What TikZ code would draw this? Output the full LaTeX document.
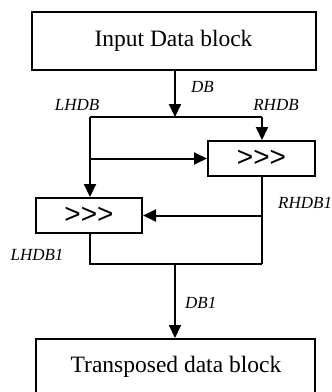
\documentclass[tikz,border=0pt]{standalone}
\usepackage{fontspec}
\setmainfont{Liberation Serif}
\newfontfamily\arialfont{Liberation Sans}
\usetikzlibrary{arrows.meta}
\begin{document}
\begin{tikzpicture}[x=1pt,y=-1pt,
  box/.style={draw,line width=2pt,rectangle,inner sep=0pt,font=\fontsize{23.5}{26}\selectfont},
  shbox/.style={draw,line width=2pt,rectangle,inner sep=0pt,minimum width=106pt,minimum height=35pt,font=\arialfont\fontsize{28}{30}\selectfont},
  wire/.style={line width=2pt},
  arr/.style={line width=2pt,-{Triangle[length=13pt,width=12pt]}},
  lbl/.style={font=\itshape\fontsize{17}{19}\selectfont,inner sep=0pt}]
\clip (0,0) rectangle (332,392);
\node[box,minimum width=284pt,minimum height=58pt] (top) at (173.5,41) {Input Data block};
\node[shbox,minimum width=107pt] (rh) at (261.5,158.5) {>{}>{}>};
\node[shbox] (lh) at (89,215.5) {>{}>{}>};
\node[box,minimum width=279pt,minimum height=58pt,anchor=north] (bot) at (175.5,338) {};
\node[font=\fontsize{23.5}{26}\selectfont] (bottxt) at (176,367) {Transposed data block};
\coordinate (jT) at (175,117);
\coordinate (jL) at (90,117);
\coordinate (jR) at (262,117);
\coordinate (jB) at (175,264);
\draw[arr] (top.south -| jT) -- (jT);
\draw[wire] (jL) -- (jR);
\draw[arr] (jR) -- (rh.north -| jR);
\draw[arr] (jL) -- (lh.north -| jL);
\draw[arr] (jL |- rh.west) -- (rh.west);
\draw[wire] (rh.south -| jR) -- (jR |- jB);
\draw[arr] (jR |- lh.east) -- (lh.east);
\draw[wire] (lh.south -| jL) -- (jL |- jB) -- (jR |- jB);
\draw[arr] (jB) -- (bot.north -| jB);
\node[lbl,anchor=west] (lDB) at (191,87) {DB};
\node[lbl] (lLH) at (77,105) {LHDB};
\node[lbl] (lRH) at (276,105) {RHDB};
\node[lbl,anchor=west] (lRH1) at (278,203) {RHDB1};
\node[lbl] (lLH1) at (37,255) {LHDB1};
\node[lbl,anchor=west] (lDB1) at (185,303) {DB1};
\end{tikzpicture}
\end{document}
